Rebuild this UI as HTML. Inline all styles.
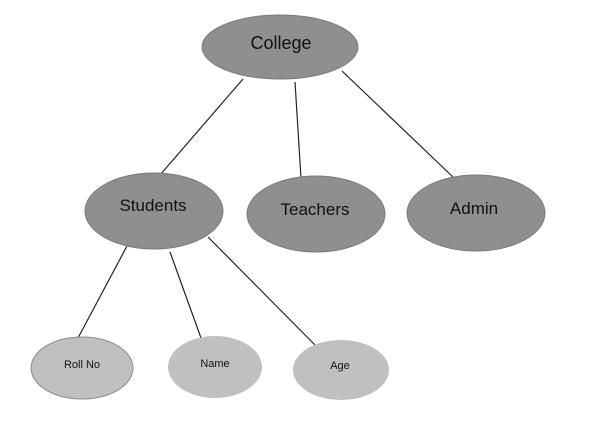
<!DOCTYPE html>
<html><head><meta charset="utf-8"><style>html,body{margin:0;padding:0;background:#fff}svg{display:block}</style></head>
<body>
<svg width="600" height="438" viewBox="0 0 600 438" xmlns="http://www.w3.org/2000/svg" font-family="'Liberation Sans', 'DejaVu Sans', sans-serif">
<g stroke="#222" stroke-width="1.2">
<line x1="243" y1="79" x2="160" y2="175"/>
<line x1="295" y1="82" x2="301" y2="178"/>
<line x1="342" y1="71" x2="454" y2="178"/>
<line x1="127" y1="246" x2="78" y2="338"/>
<line x1="170" y1="252" x2="201" y2="338"/>
<line x1="208" y1="237" x2="315" y2="345"/>
</g>
<g fill="#8f8f8f" stroke="#7a7a7a" stroke-width="1">
<ellipse cx="280" cy="47" rx="78" ry="32"/>
<ellipse cx="154" cy="211" rx="69" ry="38"/>
<ellipse cx="316" cy="214" rx="69" ry="38"/>
<ellipse cx="476" cy="213" rx="69" ry="38"/>
</g>
<g fill="#c0c0c0" stroke="#8a8a8a" stroke-width="1">
<ellipse cx="82" cy="368" rx="51" ry="31"/>
</g>
<g fill="#c0c0c0">
<ellipse cx="215" cy="367" rx="47" ry="31"/>
<ellipse cx="341" cy="370" rx="48" ry="30"/>
</g>
<g fill="#111" text-anchor="middle">
<text x="281" y="49" font-size="18">College</text>
<text x="153" y="211" font-size="17">Students</text>
<text x="315" y="215" font-size="17">Teachers</text>
<text x="474" y="214" font-size="17">Admin</text>
<text x="82" y="368" font-size="11">Roll No</text>
<text x="215" y="367" font-size="11">Name</text>
<text x="340" y="369" font-size="11">Age</text>
</g>
</svg>
</body></html>
